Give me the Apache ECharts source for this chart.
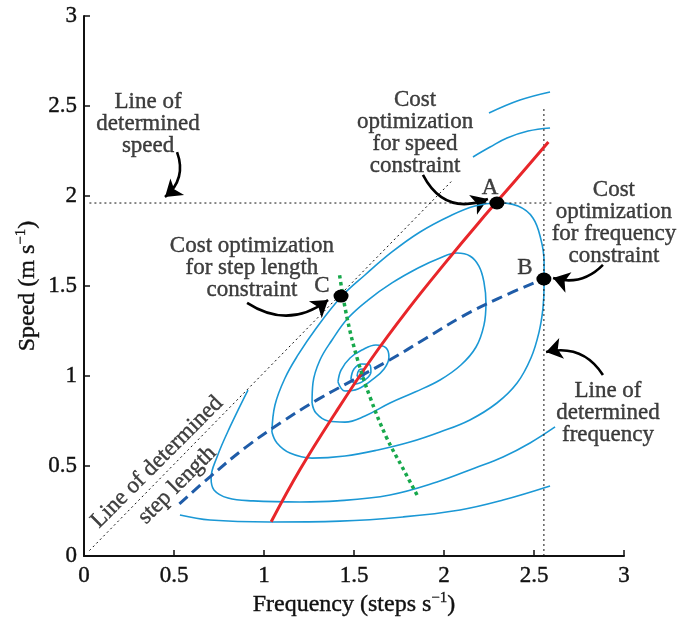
<!DOCTYPE html>
<html>
<head>
<meta charset="utf-8">
<script src="https://cdn.jsdelivr.net/npm/echarts@6/dist/echarts.min.js"></script>
<style>
html, body { margin: 0; padding: 0; background: #fff; }
#main { width: 692px; height: 619px; }
</style>
</head>
<body>
<div id="main"></div>
<script>
/* axis ticks */
const ticks = [0, 0.5, 1, 1.5, 2, 2.5, 3];

/* cost contours, closed loops (frequency, speed) */
const contour0 = [[1.517, 1.0], [1.528, 1.033], [1.55, 1.039], [1.556, 1.011], [1.539, 0.983]];
const contour1 = [[1.483, 0.983], [1.5, 1.039], [1.544, 1.067], [1.589, 1.061], [1.594, 1.022], [1.561, 0.978], [1.511, 0.956]];
const contour2 = [[1.411, 0.967], [1.428, 1.033], [1.478, 1.1], [1.544, 1.144], [1.622, 1.172], [1.678, 1.156],
    [1.694, 1.106], [1.667, 1.039], [1.6, 0.978], [1.522, 0.928], [1.45, 0.917]];
const contour3 = [[1.267, 0.85], [1.272, 0.961], [1.311, 1.089], [1.378, 1.2], [1.467, 1.322], [1.578, 1.422],
    [1.711, 1.517], [1.856, 1.6], [1.978, 1.656], [2.072, 1.683], [2.144, 1.667], [2.194, 1.611], [2.222, 1.522],
    [2.233, 1.406], [2.222, 1.283], [2.178, 1.161], [2.094, 1.061], [1.978, 0.978], [1.839, 0.911], [1.7, 0.85],
    [1.561, 0.778], [1.45, 0.744], [1.356, 0.75], [1.289, 0.794]];
const contour4 = [[1.044, 0.689], [1.061, 0.839], [1.117, 0.989], [1.189, 1.117], [1.283, 1.256], [1.428, 1.439],
    [1.561, 1.561], [1.711, 1.689], [1.867, 1.8], [2.033, 1.889], [2.172, 1.944], [2.294, 1.961], [2.411, 1.944],
    [2.494, 1.878], [2.539, 1.756], [2.556, 1.633], [2.556, 1.506], [2.55, 1.378], [2.528, 1.244], [2.483, 1.1],
    [2.406, 0.961], [2.294, 0.85], [2.144, 0.756], [1.978, 0.689], [1.811, 0.633], [1.633, 0.589], [1.45, 0.556],
    [1.267, 0.544], [1.144, 0.572], [1.072, 0.628]];
/* open contours */
const contour5 = [[0.911, 0.922], [0.811, 0.717], [0.739, 0.55], [0.706, 0.433], [0.722, 0.367], [0.8, 0.322],
    [0.939, 0.306], [1.2, 0.3], [1.406, 0.306], [1.7, 0.339], [1.961, 0.411], [2.172, 0.489], [2.328, 0.55],
    [2.478, 0.628], [2.617, 0.717]];
const contour5Top = [[2.161, 2.217], [2.256, 2.272], [2.35, 2.322], [2.467, 2.361], [2.589, 2.378]];
const contour6 = [[0.533, 0.228], [0.7, 0.2], [1.033, 0.189], [1.422, 0.194], [1.772, 0.217], [2.089, 0.256],
    [2.328, 0.311], [2.589, 0.389]];
const contour6Top = [[2.25, 2.461], [2.422, 2.533], [2.589, 2.578]];

/* optimum curves */
const speedOptX = [1.04, 1.2, 1.4, 1.6, 1.8, 2.0, 2.2, 2.4, 2.58];
const speedOptY = [0.19, 0.48, 0.80, 1.10, 1.37, 1.62, 1.86, 2.09, 2.30];
const freqOptX = [0.53, 0.7, 0.9, 1.1, 1.3, 1.5, 1.7, 1.9, 2.1, 2.3, 2.555];
const freqOptY = [0.29, 0.44, 0.605, 0.745, 0.87, 0.98, 1.09, 1.21, 1.33, 1.43, 1.54];
const stepOptX = [1.42, 1.46, 1.52, 1.59, 1.68, 1.77, 1.855];
const stepOptY = [1.56, 1.33, 1.09, 0.88, 0.66, 0.49, 0.33];

/* determined lines */
const speedLine = [[0.03, 1.961], [2.6, 1.961]];
const freqLine = [[2.555, 0], [2.555, 2.49]];
const stepLine = [[0.03, 0.03], [2.04, 2.08]];

/* optimum points A, B, C */
const pointX = [2.294, 2.555, 1.428];
const pointY = [1.961, 1.539, 1.444];

/* annotations */
const noteText = ['Line of\ndetermined\nspeed', 'Cost\noptimization\nfor speed\nconstraint',
    'Cost\noptimization\nfor frequency\nconstraint', 'Cost optimization\nfor step length\nconstraint',
    'Line of\ndetermined\nfrequency', 'A', 'B', 'C'];
const noteX = [0.356, 1.839, 2.944, 0.933, 2.911, 2.256, 2.45, 1.322];
const noteY = [2.40, 2.35, 1.85, 1.60, 0.795, 2.045, 1.6, 1.5];
const slantText = ['Line of determined', 'step length'];
const slantX = [0.406, 0.517];
const slantY = [0.522, 0.394];

/* arrows */
const arrowFrom = [[0.517, 2.244], [1.883, 2.117], [0.906, 1.406], [2.883, 1.617], [2.883, 1.006]];
const arrowTo = [[0.45, 1.994], [2.244, 1.983], [1.356, 1.422], [2.606, 1.544], [2.567, 1.133]];
const arrowBend = [0.35, -0.45, -0.35, 0.3, -0.35];

const ink = '#111';
const serif = 'Liberation Serif';
const contourColor = '#1b98d5';

const zip = (xs, ys) => xs.map((x, i) => [x, ys[i]]);

const series = [];

// 等高线
[contour0, contour1, contour2, contour3, contour4].forEach(c => {
    series.push({
        type: 'line', data: c.concat([c[0]]), smooth: 0.4, symbol: 'none', silent: true,
        lineStyle: { color: contourColor, width: 1.6 }
    });
});
[contour5, contour5Top, contour6, contour6Top].forEach(c => {
    series.push({
        type: 'line', data: c, smooth: 0.4, symbol: 'none', silent: true,
        lineStyle: { color: contourColor, width: 1.6 }
    });
});

// 辅助虚线
[speedLine, freqLine, stepLine].forEach(l => {
    series.push({
        type: 'line', data: l, symbol: 'none', silent: true,
        lineStyle: { color: ink, width: 1, type: [2, 3] }
    });
});

series.push({
    type: 'line', data: zip(freqOptX, freqOptY), smooth: 0.4, symbol: 'none',
    lineStyle: { color: '#1f5ca8', width: 3, type: [11, 6] }
});
series.push({
    type: 'line', data: zip(speedOptX, speedOptY), smooth: 0.4, symbol: 'none',
    lineStyle: { color: '#e8262a', width: 3 }
});
series.push({
    type: 'line', data: zip(stepOptX, stepOptY), smooth: 0.4, symbol: 'none',
    lineStyle: { color: '#17a84b', width: 3.5, type: [3.5, 3.5] }
});

// 箭头
series.push({
    type: 'lines', coordinateSystem: 'cartesian2d', silent: true,
    symbol: ['none', 'arrow'], symbolSize: 16,
    lineStyle: { color: '#000', width: 2.6, opacity: 1 },
    data: arrowFrom.map((p, i) => ({
        coords: [p, arrowTo[i]],
        lineStyle: { curveness: arrowBend[i] }
    }))
});

// A B C 点
series.push({
    type: 'scatter', data: zip(pointX, pointY), symbol: 'circle', symbolSize: [15, 13],
    itemStyle: { color: '#000', opacity: 1 }, z: 5
});

// 文字标注
const noteLabel = {
    show: true, position: 'inside', color: ink, fontFamily: serif, fontSize: 23,
    lineHeight: 22, align: 'center', verticalAlign: 'middle',
    textBorderColor: ink, textBorderWidth: 0.4
};
series.push({
    type: 'scatter', symbolSize: 1, itemStyle: { color: 'transparent' }, silent: true, z: 6,
    data: noteText.map((t, i) => ({ name: t, value: [noteX[i], noteY[i]] })),
    label: Object.assign({ formatter: p => p.name }, noteLabel)
});
series.push({
    type: 'scatter', symbolSize: 1, itemStyle: { color: 'transparent' }, silent: true, z: 6,
    data: slantText.map((t, i) => ({ name: t, value: [slantX[i], slantY[i]] })),
    label: Object.assign({ formatter: p => p.name, rotate: 45 }, noteLabel)
});

const tickLabel = {
    color: ink, fontFamily: serif, fontSize: 23, textBorderColor: ink, textBorderWidth: 0.4
};

const axisCommon = {
    type: 'value', min: ticks[0], max: ticks[ticks.length - 1], interval: 0.5,
    nameLocation: 'middle',
    nameMoveOverlap: false,
    axisLine: { lineStyle: { color: ink, width: 2 } },
    axisTick: { inside: true, length: 6, lineStyle: { color: ink, width: 1.5 } },
    splitLine: { show: false },
    nameTextStyle: {
        color: ink,
        rich: {
            a: { fontFamily: serif, fontSize: 24, color: ink, lineHeight: 28, textBorderColor: ink, textBorderWidth: 0.4 },
            s: { fontFamily: serif, fontSize: 15, color: ink, lineHeight: 15, verticalAlign: 'top', textBorderColor: ink, textBorderWidth: 0.3 }
        }
    }
};

const option = {
    animation: false,
    backgroundColor: '#fff',
    grid: { left: 84, top: 16, width: 540, height: 540, outerBoundsMode: 'none', containLabel: false },
    xAxis: Object.assign({}, axisCommon, {
        name: '{a|Frequency (steps s}{s|\u22121}{a|)}',
        nameGap: 35,
        axisLabel: Object.assign({ margin: 8 }, tickLabel)
    }),
    yAxis: Object.assign({}, axisCommon, {
        name: '{a|Speed (m s}{s|\u22121}{a|)}',
        nameGap: 42,
        axisLabel: Object.assign({ margin: 7 }, tickLabel)
    }),
    series: series
};

const myChart = echarts.init(document.getElementById('main'));
myChart.setOption(option);
</script>
</body>
</html>
